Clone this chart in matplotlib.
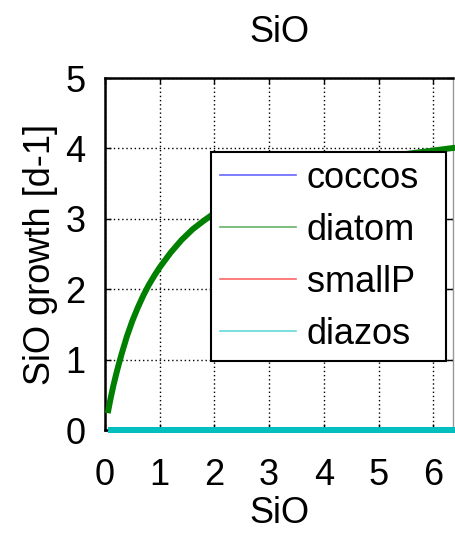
import matplotlib
matplotlib.use("Agg")
import matplotlib.pyplot as plt
from matplotlib.lines import Line2D

plt.rcParams['font.family'] = ['Liberation Sans', 'DejaVu Sans']

# SiO concentration and growth rates of each phytoplankton group
sio = [0.05, 0.1, 0.15, 0.2, 0.25, 0.3, 0.4, 0.5, 0.6, 0.7, 0.8, 0.9, 1.0,
       1.2, 1.4, 1.6, 1.8, 2.0, 2.5, 3.0, 3.5, 4.0, 4.5, 5.0, 5.5, 6.0, 6.4]
growth_diatom = [0.24, 0.44, 0.62, 0.78, 0.93, 1.07, 1.33, 1.55, 1.74, 1.91, 2.06, 2.19, 2.31,
                 2.52, 2.70, 2.85, 2.97, 3.08, 3.30, 3.47, 3.60, 3.70, 3.79, 3.86, 3.92, 3.97, 4.01]
growth_coccos = [0.0] * len(sio)
growth_smallP = [0.0] * len(sio)
growth_diazos = [0.0] * len(sio)

groups = ['coccos', 'diatom', 'smallP', 'diazos']
colors = ['#0000ff', '#008000', '#ff0000', '#00bfbf']
xticks = [0, 1, 2, 3, 4, 5, 6]
yticks = [0, 1, 2, 3, 4, 5]

FS = 26
W, H = 455, 535
fig = plt.figure(figsize=(W / 100, H / 100), dpi=100)
ax = fig.add_axes([105 / W, 105 / H, (453 - 105) / W, (430 - 78) / H])

series = [growth_coccos, growth_diatom, growth_smallP, growth_diazos]
for name, vals, col in zip(groups, series, colors):
    ax.plot(sio, vals, color=col, lw=4.3, clip_on=False, zorder=3,
            solid_capstyle='butt', solid_joinstyle='round')

ax.set_xlim(0, 6.36)
ax.set_ylim(0, 5)
ax.set_xticks(xticks)
ax.set_yticks(yticks)
ax.grid(True, color='black', linestyle=(0, (1, 2)), linewidth=1.0)
ax.tick_params(direction='in', length=4, width=1, top=True, right=True,
               labelsize=FS)
ax.tick_params(axis='x', pad=20)
ax.tick_params(axis='y', pad=14)

for side in ['left', 'top', 'bottom']:
    ax.spines[side].set_linewidth(1.8)
    ax.spines[side].set_color('black')
ax.spines['right'].set_linewidth(1.0)
ax.spines['right'].set_color('#999999')

ax.set_title('SiO', fontsize=FS, pad=26)
ax.set_xlabel('SiO', fontsize=FS, labelpad=2)
ax.set_ylabel('SiO growth [d-1]', fontsize=FS, labelpad=5)

# legend box stretched to a fixed width inside the axes
handles = [Line2D([], [], color=c, lw=1.2, alpha=0.6) for c in colors]
leg = ax.legend(handles, groups, loc='upper left', mode='expand',
                bbox_to_anchor=(211 / W, 1 - 358 / H, (446 - 211) / W, (358 - 152) / H),
                bbox_transform=fig.transFigure,
                fontsize=FS, frameon=True, fancybox=False, shadow=False,
                framealpha=1, edgecolor='black', borderpad=0.25,
                handlelength=2.1, handletextpad=0.3, labelspacing=0.47,
                borderaxespad=0)
leg.get_frame().set_linewidth(1.5)
leg.set_zorder(5)

fig.savefig('out.png', dpi=100)
